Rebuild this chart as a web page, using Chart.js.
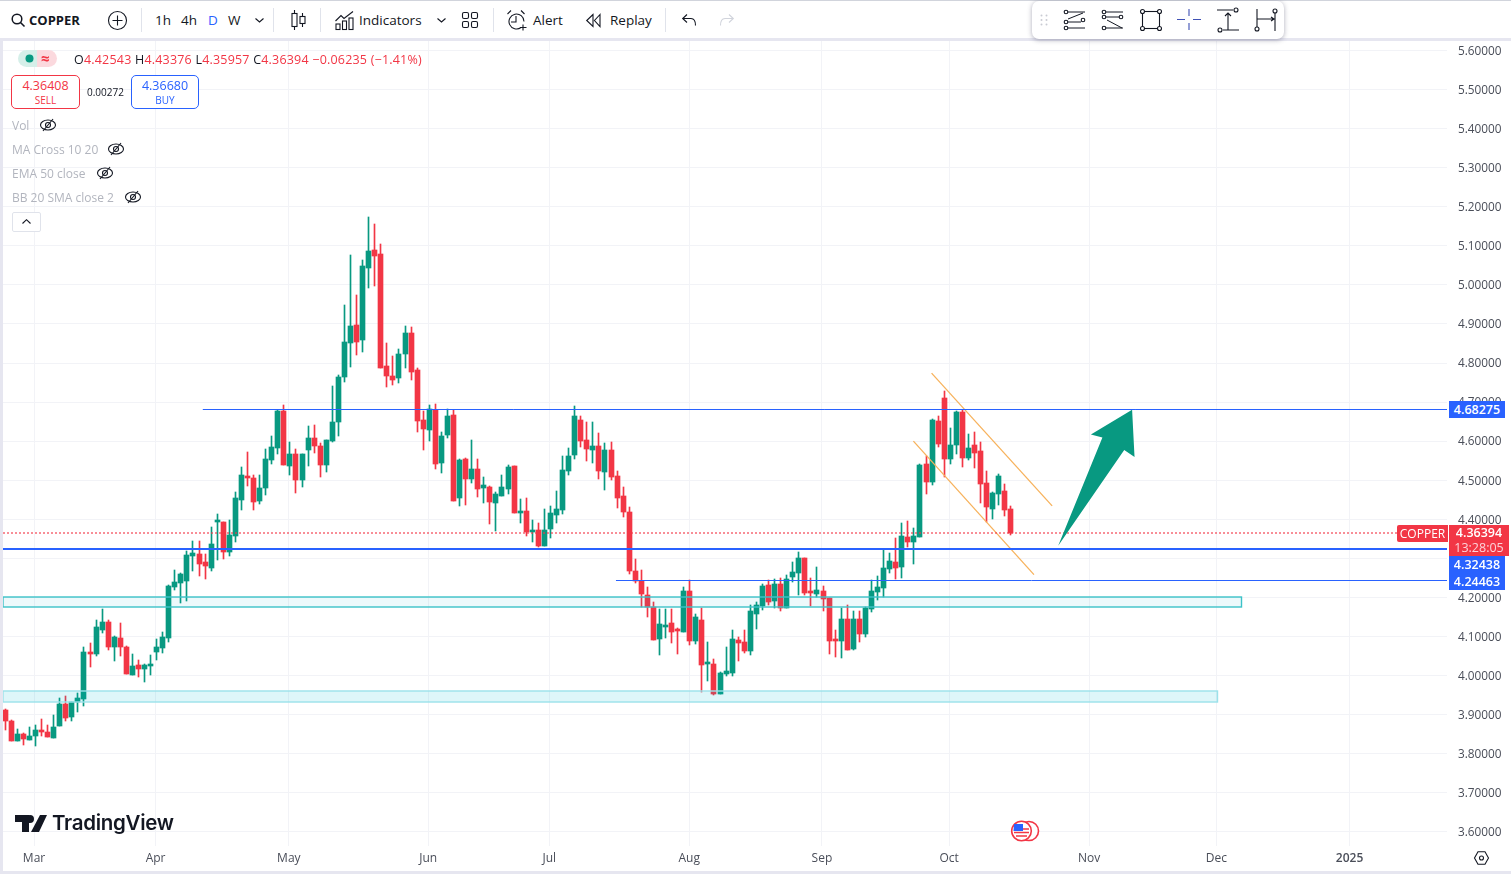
<!DOCTYPE html>
<html>
<head>
<meta charset="utf-8">
<title>COPPER</title>
<script src="https://cdn.jsdelivr.net/npm/chart.js@4/dist/chart.umd.min.js"></script>
<style>
  html, body { margin: 0; height: 874px; overflow: hidden; background: #fff; font-family: "Open Sans", sans-serif; color: #131722; }
  #chart { position: absolute; left: 3px; top: 41px; }
  .bar-top { position: absolute; left: 0; top: 1px; width: 1511px; height: 37px; background: #fff; border-top: 1px solid #d1d4dc; margin-top: -1px; }
  .strip { position: absolute; background: #e6e6f0; }
  .t { position: absolute; white-space: nowrap; line-height: 16px; }
  .tb { font-size: 13.5px; top: 12px; }
  .sep { position: absolute; top: 8px; width: 1px; height: 24px; background: #e0e3eb; }
  svg { position: absolute; overflow: visible; fill: none; stroke: #131722; stroke-width: 1.1; }
  .ohlc { left: 74px; top: 52px; font-size: 12.5px; letter-spacing: .2px; }
  .ohlc b { font-weight: 400; color: #f23645; }
  .pill { position: absolute; left: 18px; top: 50px; width: 39px; height: 17px; border-radius: 9px; background: linear-gradient(90deg, #d5efe9 50%, #fbd9de 50%); }
  .box { position: absolute; top: 75px; height: 32px; border: 1px solid; border-radius: 5px; background: #fff; text-align: center; }
  .box div { line-height: 14px; }
  .box .p { font-size: 12.5px; margin-top: 3px; }
  .box .s { font-size: 10px; }
  .ind { left: 12px; font-size: 12px; color: #b2b5be; }
  .collapse { position: absolute; left: 12px; top: 212px; width: 27px; height: 18px; border: 1px solid #e0e3eb; border-radius: 2px; background: #fff; }
  .float { position: absolute; left: 1032px; top: 1px; width: 252px; height: 38px; background: #fff; border-radius: 7px; box-shadow: 0 1px 5px rgba(70,70,100,.45); }
  .tag { position: absolute; color: #fff; text-align: center; font-size: 12.5px; font-weight: 600; }
  .logo { left: 52px; top: 810px; font-family: Inter, sans-serif; font-size: 20.5px; font-weight: 600; line-height: 26px; letter-spacing: -.3px; color: #131722; }
</style>
</head>
<body>
<canvas id="chart" width="1508" height="830"></canvas>

<div class="bar-top"></div>
<div class="strip" style="left:0;top:38px;width:1511px;height:3px"></div>
<div class="strip" style="left:0;top:38px;width:3px;height:836px"></div>
<div class="strip" style="left:0;top:871px;width:1511px;height:3px"></div>

<svg style="left:11px;top:13px" width="14" height="14" stroke-width="1.5"><circle cx="6" cy="6" r="4.8" stroke-width="1.5"/><path d="M9.5 9.5L13.5 13.5" stroke-width="1.6"/></svg>
<div class="t tb" style="left:29px;font-weight:700;font-size:13px">COPPER</div>
<svg style="left:108px;top:11px" width="19" height="19"><circle cx="9.5" cy="9.5" r="9"/><path d="M9.5 4.5v10M4.5 9.5h10"/></svg>
<div class="sep" style="left:141px"></div>
<div class="t tb" style="left:155px">1h</div>
<div class="t tb" style="left:181px">4h</div>
<div class="t tb" style="left:208px;color:#2962ff">D</div>
<div class="t tb" style="left:228px">W</div>
<svg style="left:255px;top:18px" width="9" height="5"><path d="M0.5 0.5L4.5 4L8.5 0.5"/></svg>
<div class="sep" style="left:273px"></div>
<svg style="left:291px;top:10px" width="15" height="20"><path d="M3.5 0v20M11.5 3v14"/><rect x="1" y="3.5" width="5" height="13" fill="#fff"/><rect x="9" y="6.5" width="5" height="7" fill="#fff"/></svg>
<div class="sep" style="left:320px"></div>
<svg style="left:335px;top:11px" width="19" height="19"><path d="M0.5 10L6 4.5L9 7.5L18 0.5"/><rect x="1" y="13" width="4" height="5.5"/><rect x="7.5" y="10" width="4" height="8.5"/><rect x="14" y="7" width="4" height="11.5"/></svg>
<div class="t tb" style="left:359px">Indicators</div>
<svg style="left:437px;top:18px" width="9" height="5"><path d="M0.5 0.5L4.5 4L8.5 0.5"/></svg>
<svg style="left:462px;top:12px" width="16" height="16"><rect x="0.5" y="0.5" width="6" height="6" rx="1.5"/><rect x="9.5" y="0.5" width="6" height="6" rx="1.5"/><rect x="0.5" y="9.5" width="6" height="6" rx="1.5"/><rect x="9.5" y="9.5" width="6" height="6" rx="1.5"/></svg>
<div class="sep" style="left:493px"></div>
<svg style="left:507px;top:10px" width="21" height="21"><path d="M14 17.5A7.5 7.5 0 1 1 17 11.5M9 6v6H4M0.5 4L4 0.5M14 0.5L17.500 4M16 14.500v6M13 17.500h6.500"/></svg>
<div class="t tb" style="left:533px">Alert</div>
<svg style="left:586px;top:14px" width="15" height="13"><path d="M7 0.5L0.700 6.500L7 12.500ZM14 0.500L8.500 6.500L14 12.500Z"/></svg>
<div class="t tb" style="left:610px">Replay</div>
<div class="sep" style="left:665px"></div>
<svg style="left:682px;top:14px" width="14" height="12"><path d="M5 0.500L0.700 4.500L5 8.500M0.700 4.500H9Q13.500 4.500 13.500 11.500"/></svg>
<svg style="left:720px;top:14px" width="14" height="12"><path stroke="#d1d4dc" d="M9 0.500L13.300 4.500L9 8.500M13.300 4.500H5Q0.500 4.500 0.500 11.500"/></svg>

<div class="float"></div>
<svg style="left:1040px;top:14px" width="8" height="12"><circle cx="1.500" cy="1.500" r="1" fill="#c9cbd3" stroke="none"/><circle cx="6.500" cy="1.500" r="1" fill="#c9cbd3" stroke="none"/><circle cx="1.500" cy="6" r="1" fill="#c9cbd3" stroke="none"/><circle cx="6.500" cy="6" r="1" fill="#c9cbd3" stroke="none"/><circle cx="1.500" cy="10.500" r="1" fill="#c9cbd3" stroke="none"/><circle cx="6.500" cy="10.500" r="1" fill="#c9cbd3" stroke="none"/></svg>
<svg style="left:1063px;top:10px" width="22" height="20"><circle cx="3" cy="2" r="1.800"/><circle cx="3" cy="12" r="1.800"/><circle cx="20" cy="10" r="1.800"/><circle cx="3" cy="18" r="1.800"/><path d="M5 2h17M5 12h13M5 18h17M5 9l15-6" stroke-width="1"/></svg>
<svg style="left:1101px;top:10px" width="22" height="20"><circle cx="3" cy="2" r="1.800"/><circle cx="3" cy="7" r="1.800"/><circle cx="20" cy="7" r="1.800"/><circle cx="3" cy="18" r="1.800"/><path d="M5 2h17M5 7h13M5 18h17M6 10l15 8" stroke-width="1"/></svg>
<svg style="left:1140px;top:9px" width="22" height="22"><rect x="2.500" y="2.500" width="17" height="17"/><circle cx="2.500" cy="2.500" r="2" fill="#fff"/><circle cx="19.500" cy="2.500" r="2" fill="#fff"/><circle cx="2.500" cy="19.500" r="2" fill="#fff"/><circle cx="19.500" cy="19.500" r="2" fill="#fff"/></svg>
<svg style="left:1177px;top:9px" width="24" height="22"><path stroke="#3f51b5" d="M12 0v7M12 14v7M0 10.500h8M16 10.500h8"/></svg>
<svg style="left:1217px;top:8px" width="22" height="24"><path d="M0 2h16M6 22h16M11 22V5M8 8l3-3l3 3"/><circle cx="19" cy="2" r="2" fill="#fff"/><circle cx="3" cy="22" r="2" fill="#fff"/></svg>
<svg style="left:1254px;top:9px" width="22" height="22"><path d="M3 0v18M21 4v18M3 10h17M17 8l3 2l-3 2"/><circle cx="21" cy="2" r="2" fill="#fff"/><circle cx="3" cy="20" r="2" fill="#fff"/></svg>

<div class="pill"></div>
<svg style="left:25px;top:54px" width="9" height="9"><circle cx="4.500" cy="4.500" r="4" fill="#089981" stroke="none"/></svg>
<div class="t" style="left:41px;top:50px;color:#f23645;font-size:15px;font-weight:700">≈</div>
<div class="t ohlc">O<b>4.42543</b> H<b>4.43376</b> L<b>4.35957</b> C<b>4.36394</b> <b>−0.06235 (−1.41%)</b></div>
<div class="box" style="left:11px;width:67px;border-color:#f23645;color:#f23645"><div class="p">4.36408</div><div class="s">SELL</div></div>
<div class="t" style="left:87px;top:84px;font-size:10px">0.00272</div>
<div class="box" style="left:131px;width:66px;border-color:#2962ff;color:#2962ff"><div class="p">4.36680</div><div class="s">BUY</div></div>
<div class="t ind" style="top:118px">Vol</div>
<div class="t ind" style="top:142px">MA Cross 10 20</div>
<div class="t ind" style="top:166px">EMA 50 close</div>
<div class="t ind" style="top:190px">BB 20 SMA close 2</div>
<svg style="left:40px;top:118px" width="16" height="14" stroke="#787b86"><ellipse cx="8" cy="7" rx="7.500" ry="5"/><circle cx="8" cy="7" r="2.500"/><path d="M3 13L13 1"/></svg>
<svg style="left:108px;top:142px" width="16" height="14" stroke="#787b86"><ellipse cx="8" cy="7" rx="7.500" ry="5"/><circle cx="8" cy="7" r="2.500"/><path d="M3 13L13 1"/></svg>
<svg style="left:97px;top:166px" width="16" height="14" stroke="#787b86"><ellipse cx="8" cy="7" rx="7.500" ry="5"/><circle cx="8" cy="7" r="2.500"/><path d="M3 13L13 1"/></svg>
<svg style="left:125px;top:190px" width="16" height="14" stroke="#787b86"><ellipse cx="8" cy="7" rx="7.500" ry="5"/><circle cx="8" cy="7" r="2.500"/><path d="M3 13L13 1"/></svg>
<div class="collapse"></div>
<svg style="left:22px;top:219px" width="9" height="5"><path d="M0.500 4.500L4.500 0.700L8.500 4.500"/></svg>

<div class="tag" style="left:1449px;top:401px;width:56px;height:17px;line-height:17px;background:#2962ff">4.68275</div>
<div class="tag" style="left:1397px;top:525px;width:51px;height:17px;line-height:17px;background:#f23645;border-radius:2px 0 0 2px;font-size:12px;font-weight:400">COPPER</div>
<div class="tag" style="left:1449px;top:556px;width:56px;height:34px;line-height:17px;background:#2962ff">4.32438<br>4.24463</div>
<div class="tag" style="left:1449px;top:525px;width:60px;height:31px;line-height:15px;background:#f23645">4.36394<br><span style="color:#fcd2d8;font-weight:400">13:28:05</span></div>

<svg style="left:15px;top:815px" width="32" height="17"><path fill="#131722" stroke="none" d="M0 0H14V17H7V7H0ZM25 0H32L24 17H16ZM15 0a4 4 0 1 1 0 8a4 4 0 1 1 0-8"/></svg>
<div class="t logo">TradingView</div>

<svg style="left:1011px;top:820px" width="29" height="22"><circle cx="18" cy="11" r="9.500" fill="#fff" stroke="#f23645" stroke-width="1.600"/><circle cx="10.500" cy="11" r="9.800" fill="#fff" stroke="#f23645" stroke-width="1.600"/><path stroke="#f23645" stroke-width="1.500" d="M3 9h15M3 12.500h15M5 16h11"/><path fill="#2962ff" stroke="none" d="M3 4h9v7H2.500z"/></svg>
<svg style="left:1474px;top:851px" width="15" height="14"><path d="M4 0.700H11L14.500 7L11 13.300H4L0.500 7Z"/><circle cx="7.500" cy="7" r="2"/></svg>

<script>
const opens = [
  3.911,3.884,3.832,3.851,3.835,3.845,3.860,3.856,3.840,3.871,
  3.926,3.894,3.932,3.939,4.059,4.055,4.116,4.136,4.072,4.095,
  4.072,4.001,4.026,4.016,4.023,4.060,4.070,4.095,4.226,4.236,
  4.241,4.307,4.310,4.290,4.275,4.393,4.393,4.316,4.358,4.450,
  4.510,4.506,4.446,4.480,4.551,4.582,4.676,4.536,4.566,4.500,
  4.577,4.609,4.587,4.538,4.600,4.648,4.764,4.851,4.897,4.859,
  5.043,5.089,5.079,4.792,4.766,4.762,4.823,4.876,4.782,4.655,
  4.628,4.679,4.543,4.615,4.667,4.455,4.554,4.503,4.528,4.480,
  4.482,4.442,4.460,4.478,4.536,4.416,4.421,4.367,4.372,4.331,
  4.374,4.410,4.423,4.523,4.564,4.654,4.603,4.577,4.587,4.521,
  4.577,4.510,4.459,4.418,4.267,4.242,4.206,4.175,4.093,4.125,
  4.134,4.116,4.111,4.216,4.088,4.142,4.029,4.029,3.952,4.003,
  4.006,4.090,4.085,4.062,4.157,4.177,4.231,4.190,4.234,4.172,
  4.252,4.262,4.300,4.214,4.208,4.216,4.197,4.090,4.088,4.144,
  4.067,4.144,4.105,4.170,4.214,4.223,4.272,4.290,4.277,4.354,
  4.341,4.354,4.541,4.495,4.651,4.710,4.554,4.590,4.674,4.556,
  4.590,4.574,4.492,4.426,4.464,4.472,4.42543
]
const highs = [
  3.913,3.886,3.864,3.853,3.867,3.873,3.888,3.872,3.898,3.942,
  3.946,3.933,3.954,4.073,4.083,4.141,4.169,4.142,4.101,4.133,
  4.074,4.056,4.039,4.029,4.053,4.093,4.111,4.231,4.271,4.262,
  4.319,4.344,4.344,4.311,4.380,4.413,4.394,4.398,4.470,4.534,
  4.571,4.514,4.512,4.581,4.612,4.679,4.692,4.597,4.581,4.568,
  4.638,4.642,4.596,4.602,4.741,4.769,4.948,5.077,4.974,5.063,
  5.173,5.156,5.104,4.852,4.818,4.837,4.894,4.893,4.786,4.677,
  4.692,4.695,4.624,4.682,4.679,4.554,4.556,4.603,4.554,4.507,
  4.486,4.470,4.513,4.538,4.536,4.451,4.454,4.398,4.391,4.426,
  4.435,4.472,4.562,4.582,4.690,4.664,4.649,4.649,4.620,4.595,
  4.597,4.523,4.482,4.431,4.299,4.270,4.226,4.188,4.170,4.170,
  4.170,4.121,4.226,4.244,4.157,4.172,4.085,4.042,4.008,4.072,
  4.116,4.098,4.116,4.180,4.188,4.234,4.244,4.247,4.249,4.257,
  4.290,4.316,4.300,4.249,4.277,4.229,4.197,4.116,4.172,4.180,
  4.164,4.164,4.175,4.244,4.254,4.323,4.313,4.351,4.390,4.395,
  4.377,4.541,4.561,4.656,4.664,4.728,4.633,4.677,4.679,4.618,
  4.623,4.597,4.523,4.469,4.515,4.490,4.43376
]
const lows = [
  3.860,3.832,3.832,3.821,3.834,3.819,3.844,3.841,3.839,3.870,
  3.884,3.884,3.906,3.921,4.022,4.050,4.109,4.065,4.037,4.050,
  4.003,4.001,3.996,3.984,4.001,4.039,4.057,4.086,4.218,4.186,
  4.190,4.267,4.254,4.247,4.267,4.295,4.298,4.306,4.342,4.423,
  4.484,4.423,4.440,4.461,4.541,4.566,4.538,4.513,4.467,4.483,
  4.536,4.570,4.508,4.521,4.598,4.613,4.752,4.790,4.820,4.828,
  4.993,4.998,4.787,4.739,4.743,4.749,4.787,4.756,4.624,4.577,
  4.600,4.528,4.518,4.607,4.447,4.434,4.436,4.493,4.456,4.442,
  4.387,4.370,4.459,4.464,4.416,4.389,4.357,4.341,4.329,4.331,
  4.351,4.389,4.413,4.513,4.554,4.585,4.549,4.544,4.503,4.474,
  4.500,4.428,4.405,4.259,4.237,4.174,4.149,4.090,4.052,4.095,
  4.083,4.054,4.111,4.078,4.080,3.957,3.985,3.949,3.952,3.998,
  3.998,4.036,4.057,4.052,4.118,4.167,4.180,4.172,4.165,4.172,
  4.239,4.206,4.206,4.177,4.201,4.165,4.056,4.046,4.044,4.064,
  4.064,4.085,4.098,4.162,4.193,4.200,4.262,4.246,4.249,4.328,
  4.285,4.354,4.464,4.487,4.585,4.508,4.541,4.567,4.533,4.551,
  4.531,4.441,4.392,4.400,4.436,4.408,4.35957
]
const closes = [
  3.884,3.832,3.851,3.837,3.846,3.859,3.856,3.842,3.869,3.926,
  3.891,3.933,3.941,4.061,4.055,4.125,4.136,4.072,4.098,4.072,
  4.003,4.024,4.016,4.026,4.026,4.072,4.098,4.229,4.238,4.259,
  4.308,4.313,4.285,4.280,4.336,4.395,4.317,4.359,4.454,4.514,
  4.506,4.444,4.481,4.555,4.586,4.677,4.538,4.566,4.500,4.566,
  4.609,4.587,4.538,4.602,4.648,4.764,4.853,4.894,4.853,5.048,
  5.087,5.074,4.787,4.766,4.756,4.824,4.876,4.777,4.651,4.631,
  4.681,4.541,4.612,4.664,4.447,4.551,4.503,4.528,4.478,4.487,
  4.445,4.464,4.482,4.533,4.416,4.421,4.367,4.370,4.331,4.372,
  4.416,4.426,4.526,4.562,4.664,4.600,4.579,4.587,4.523,4.577,
  4.508,4.454,4.418,4.268,4.242,4.208,4.175,4.090,4.131,4.128,
  4.111,4.113,4.216,4.088,4.149,4.026,4.031,3.952,4.006,4.011,
  4.093,4.083,4.062,4.165,4.180,4.229,4.188,4.234,4.172,4.247,
  4.265,4.300,4.211,4.211,4.218,4.195,4.088,4.088,4.144,4.064,
  4.144,4.105,4.172,4.216,4.226,4.275,4.293,4.275,4.356,4.341,
  4.356,4.538,4.495,4.654,4.592,4.554,4.590,4.674,4.556,4.582,
  4.569,4.490,4.431,4.467,4.510,4.423,4.36394
]

const monthLabels = ['Mar', 'Apr', 'May', 'Jun', 'Jul', 'Aug', 'Sep', 'Oct', 'Nov', 'Dec', '2025']
const monthBars = [4.84, 24.9, 46.9, 69.9, 89.9, 113, 134.9, 155.9, 179, 200, 222]
const priceTicks = [3.6, 3.7, 3.8, 3.9, 4.0, 4.1, 4.2, 4.3, 4.4, 4.5, 4.6, 4.7, 4.8, 4.9, 5.0, 5.1, 5.2, 5.3, 5.4, 5.5, 5.6]

const xMin = -0.28
const xMax = 238.08
const yMin = 3.5631
const yMax = 5.6246

const lastPrice = 4.36394
const levelUpper = [[32.7, 4.68275], [xMax, 4.68275]]
const levelMain = [[xMin, 4.32438], [xMax, 4.32438]]
const levelLower = [[100.9, 4.24463], [xMax, 4.24463]]
const channelUpper = [[153, 4.774], [172.9, 4.434]]
const channelLower = [[150, 4.600], [169.9, 4.258]]
const zoneUpper = [xMin, 204.1, 4.2005, 4.174]
const zoneLower = [xMin, 200.1, 3.961, 3.932]
const arrowShape = [[173.9, 4.332], [181.2, 4.609], [179.3, 4.617], [186.1, 4.680], [186.5, 4.559], [184.8, 4.577]]

const GREEN = '#089981'
const RED = '#f23645'
const BLUE = '#2962ff'
const candleColors = closes.map((c, i) => c >= opens[i] ? GREEN : RED)

const toXY = pts => pts.map(p => ({ x: p[0], y: p[1] }))
const lineSet = (pts, color, width, dash) => ({
  type: 'line',
  data: toXY(pts),
  borderColor: color,
  borderWidth: width,
  borderDash: dash || [],
  pointRadius: 0,
  order: 0
})

// snap candles and flat lines to whole pixels so they stay crisp
const snapCandles = {
  id: 'snapCandles',
  afterDatasetsUpdate(chart) {
    [0, 1].forEach(d => {
      chart.getDatasetMeta(d).data.forEach(el => {
        el.x = Math.round(el.x) + 0.5
        el.y = Math.round(el.y)
        el.base = Math.round(el.base)
      })
    })
    ;[3, 5].forEach(d => {
      chart.getDatasetMeta(d).data.forEach(el => { el.y = Math.round(el.y) + 0.5 })
    })
    ;[2, 4].forEach(d => {
      chart.getDatasetMeta(d).data.forEach(el => { el.y = Math.round(el.y) })
    })
  }
}

// zones and the big arrow
const drawings = {
  id: 'drawings',
  afterDatasetsDraw(chart) {
    const { ctx, chartArea, scales: { x, y } } = chart
    ctx.save()
    ctx.beginPath()
    ctx.rect(chartArea.left, chartArea.top, chartArea.width, chartArea.height)
    ctx.clip()
    const zone = (z, fill, stroke) => {
      const left = x.getPixelForValue(z[0])
      const right = Math.round(x.getPixelForValue(z[1])) + 0.5
      const top = Math.round(y.getPixelForValue(z[2]))
      const bottom = Math.round(y.getPixelForValue(z[3]))
      ctx.fillStyle = fill
      ctx.fillRect(left, top, right - left, bottom - top)
      ctx.strokeStyle = stroke
      ctx.lineWidth = 1.4
      ctx.strokeRect(left, top, right - left, bottom - top)
    }
    zone(zoneUpper, 'rgba(0,172,193,0.07)', '#3cc2c8')
    zone(zoneLower, 'rgba(0,188,212,0.13)', '#9be2ea')
    ctx.beginPath()
    arrowShape.forEach((p, i) => {
      const px = x.getPixelForValue(p[0])
      const py = y.getPixelForValue(p[1])
      if (i === 0) ctx.moveTo(px, py)
      else ctx.lineTo(px, py)
    })
    ctx.closePath()
    ctx.fillStyle = GREEN
    ctx.fill()
    ctx.restore()
  }
}

const noPadding = scale => {
  scale.paddingTop = 0
  scale.paddingBottom = 0
  scale.paddingLeft = 0
  scale.paddingRight = 0
}

new Chart(document.getElementById('chart'), {
  type: 'bar',
  plugins: [snapCandles, drawings],
  data: {
    datasets: [
      {
        data: opens.map((o, i) => ({ x: i, y: [lows[i], highs[i]] })),
        backgroundColor: candleColors,
        barThickness: 1,
        grouped: false,
        minBarLength: 1,
        order: 3
      },
      {
        data: opens.map((o, i) => ({ x: i, y: [o, closes[i]] })),
        backgroundColor: candleColors,
        barThickness: 5,
        grouped: false,
        minBarLength: 2,
        order: 2
      },
      lineSet([[xMin, lastPrice], [xMax, lastPrice]], 'rgba(242,54,69,0.75)', 1.6, [2, 2]),
      lineSet(levelUpper, BLUE, 1),
      lineSet(levelMain, BLUE, 2),
      lineSet(levelLower, BLUE, 1),
      lineSet(channelUpper, '#f7b25c', 1.3),
      lineSet(channelLower, '#f7b25c', 1.3)
    ]
  },
  options: {
    responsive: false,
    devicePixelRatio: 1,
    animation: false,
    layout: { padding: 0 },
    plugins: { legend: { display: false }, tooltip: { enabled: false } },
    scales: {
      x: {
        type: 'linear',
        offset: false,
        min: xMin,
        max: xMax,
        border: { display: false },
        grid: { color: '#f2f3f7', drawTicks: false, offset: false },
        afterBuildTicks(scale) { scale.ticks = monthBars.map(v => ({ value: v })) },
        afterFit(scale) { scale.height = 25; noPadding(scale) },
        ticks: {
          autoSkip: false,
          maxRotation: 0,
          padding: 5,
          color: '#4a4e59',
          font: ctx => ({ family: 'Open Sans', size: 12, weight: ctx.index === 10 ? '600' : '400' }),
          callback: (v, i) => monthLabels[i]
        }
      },
      y: {
        position: 'right',
        min: yMin,
        max: yMax,
        border: { display: false },
        grid: { color: '#f2f3f7', drawTicks: false },
        afterBuildTicks(scale) { scale.ticks = priceTicks.map(v => ({ value: v })) },
        afterFit(scale) { scale.width = 64; noPadding(scale) },
        ticks: {
          autoSkip: false,
          padding: 11,
          labelOffset: 1,
          color: '#4a4e59',
          font: { family: 'Open Sans', size: 11.8 },
          callback: v => v.toFixed(5)
        }
      }
    }
  }
})
</script>
</body>
</html>
